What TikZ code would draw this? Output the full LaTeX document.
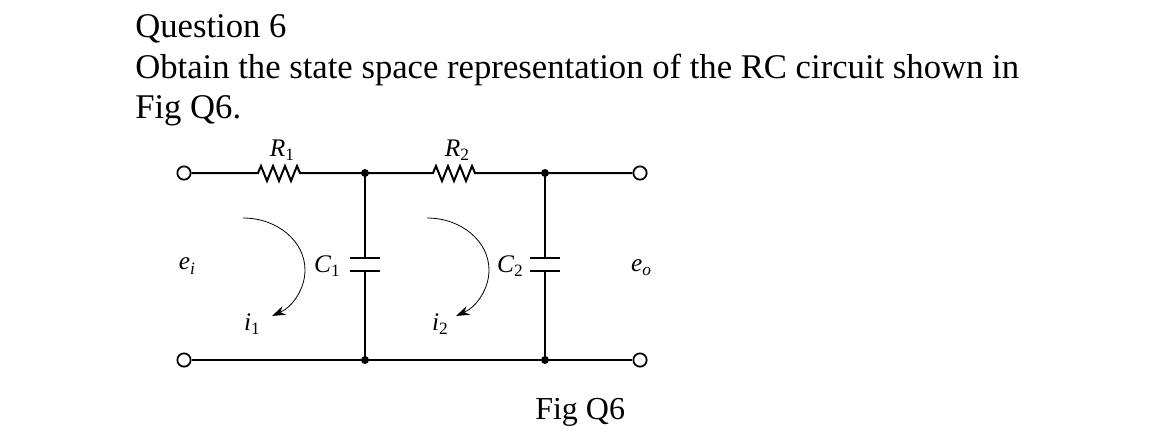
\documentclass[tikz,border=0pt]{standalone}
\usepackage{fontspec}
\setmainfont{Liberation Serif}
\usetikzlibrary{arrows.meta}
\newcommand\mylab[2]{\textit{#1}\raisebox{-0.35ex}{\fontsize{13}{13}\selectfont #2}}
\begin{document}
\begin{tikzpicture}[x=0.75pt,y=-0.75pt,
  wire/.style={line width=1.5pt},
  term/.style={circle,draw,line width=1.3pt,fill=white,minimum size=10pt,inner sep=0},
  dot/.style={circle,fill,minimum size=6pt,inner sep=0},
  lbl/.style={font=\fontsize{19}{19}\selectfont},
  cur/.style={line width=0.6pt,-{Stealth[length=10pt,width=7pt]}}]
\useasboundingbox (0,0) rectangle (1170,447);
\node[anchor=base west,font=\fontsize{26}{26}\selectfont,inner sep=0] (t1) at (135,37) {Question 6};
\node[anchor=base west,font=\fontsize{26}{26}\selectfont,inner sep=0] (t2) at (135,78) {Obtain the state space representation of the RC circuit shown in};
\node[anchor=base west,font=\fontsize{26}{26}\selectfont,inner sep=0] (t3) at (135,118) {Fig Q6.};
\node[anchor=base west,font=\fontsize{24}{24}\selectfont,inner sep=0] (fig) at (535,419) {Fig Q6};
\coordinate (ja) at (365,173); \coordinate (jb) at (545,173);
\coordinate (ka) at (365,360); \coordinate (kb) at (545,360);
\node[term] (A) at (184,173) {};
\node[term] (B) at (184,360) {};
\node[term] (C) at (640,173) {};
\node[term] (D) at (640,360) {};
\draw[wire] (A) -- (258,173) -- (261,166) -- (267,181) -- (273,166) -- (279,181) -- (285,166) -- (291,181) -- (297,166) -- (300,173) -- (303,173) -- (ja) -- (433,173) -- (436,166) -- (442,181) -- (448,166) -- (454,181) -- (460,166) -- (466,181) -- (472,166) -- (475,173) -- (477,173) -- (jb) -- (C);
\draw[wire] (B) -- (ka) -- (kb) -- (D);
\draw[wire] (ja) -- (365,258); \draw[wire] (365,271) -- (ka);
\draw[wire] (350,258) -- (380,258); \draw[wire] (350,271) -- (380,271);
\draw[wire] (jb) -- (545,258); \draw[wire] (545,271) -- (kb);
\draw[wire] (530,258) -- (560,258); \draw[wire] (530,271) -- (560,271);
\node[dot] at (ja) {}; \node[dot] at (jb) {};
\node[dot] at (ka) {}; \node[dot] at (kb) {};
\node[lbl] (r1) at (282,150) {\mylab{R}{1}};
\node[lbl] (r2) at (457,150) {\mylab{R}{2}};
\node[lbl] (c1) at (327,266) {\mylab{C}{1}};
\node[lbl] (c2) at (510,266) {\mylab{C}{2}};
\node[lbl] (ei) at (187,266) {\mylab{e}{\textit{i}}};
\node[lbl] (eo) at (641,268) {\mylab{e}{\textit{o}}};
\node[lbl] (i1) at (252,324) {\mylab{i}{1}};
\node[lbl] (i2) at (440,324) {\mylab{i}{2}};
\draw[cur] (243,218) arc[start angle=-90,end angle=62,x radius=62,y radius=52];
\draw[cur] (427,218) arc[start angle=-90,end angle=62,x radius=62,y radius=52];
\end{tikzpicture}
\end{document}
